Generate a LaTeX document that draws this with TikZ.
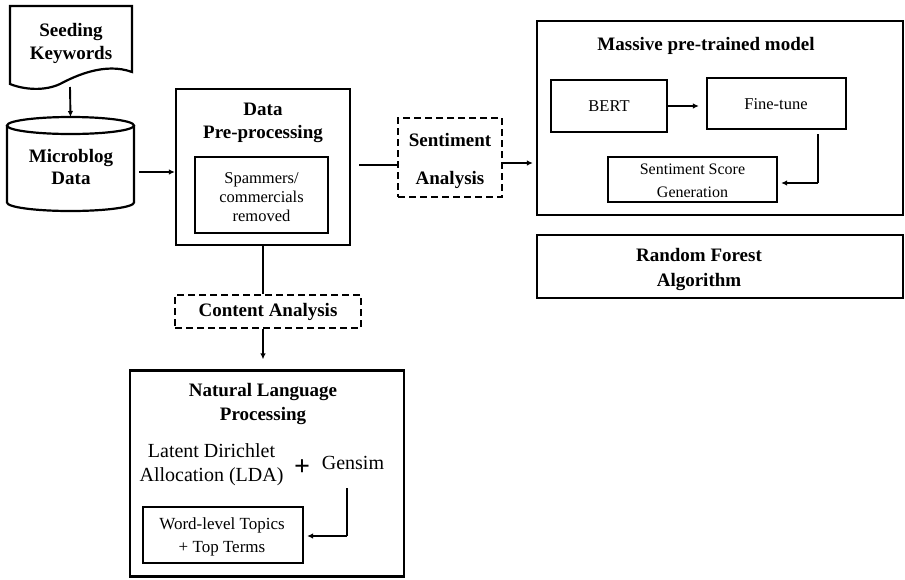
\documentclass[tikz,border=0pt]{standalone}
\usepackage{fontspec}
\setmainfont{Liberation Serif}
\usetikzlibrary{arrows.meta}
\begin{document}
\begin{tikzpicture}[x=1pt,y=-1pt,
  box/.style={draw, line width=2.2pt, inner sep=0pt},
  dbox/.style={draw, line width=2.2pt, inner sep=0pt, dash pattern=on 7pt off 4pt},
  ttl/.style={font=\bfseries\fontsize{19}{23}\selectfont, align=center, inner sep=0pt},
  txt/.style={font=\fontsize{16.5}{19.5}\selectfont, align=center, inner sep=0pt},
  line/.style={line width=1.9pt},
  arr/.style={line width=1.9pt, -{Latex[length=6pt,width=5.5pt]}}]
\useasboundingbox (0,0) rectangle (905,579);

% --- Seeding keywords (document shape)
\draw[line width=2.2pt] (10,6) -- (132,6) -- (132,72)
  .. controls (105,62) and (75,76) .. (60,84)
  .. controls (45,91) and (25,90) .. (10,84) -- cycle;
\node[ttl] (seed) at (71,43) {Seeding\\Keywords};
\coordinate (seedb) at (70,87);

% --- Microblog data (cylinder)
\draw[line width=2.2pt] (70.5,125.5) ellipse [x radius=63.5, y radius=8.5];
\draw[line width=2.2pt] (7,125.5) -- (7,202.5)
  .. controls (7,207.2) and (35.4,211) .. (70.5,211)
  .. controls (105.6,211) and (134,207.2) .. (134,202.5) -- (134,125.5);
\coordinate (cyltop) at (70.5,117);
\node[ttl, font=\bfseries\fontsize{19}{22}\selectfont] (mb) at (71,167) {Microblog\\Data};
\coordinate (cylr) at (139,172);

% --- Data pre-processing
\node[box, minimum width=174pt, minimum height=156pt] (pre) at (263,167) {};
\node[ttl] (pretitle) at (263,123) {Data\\Pre-processing};
\node[box, minimum width=133pt, minimum height=76pt] (spam) at (261.5,195) {};
\node[txt, font=\fontsize{16.5}{19}\selectfont] (spamtxt) at (261.5,197) {Spammers/\\commercials\\removed};

% --- Sentiment analysis
\node[dbox, minimum width=104pt, minimum height=79pt] (sent) at (450,157.5) {};
\node[ttl, font=\bfseries\fontsize{19}{38}\selectfont] (senttxt) at (450,161) {Sentiment\\Analysis};

% --- Massive pre-trained model
\node[box, minimum width=366pt, minimum height=194pt] (mass) at (720,118) {};
\node[ttl] (masstitle) at (706,46) {Massive pre-trained model};
\node[box, minimum width=116pt, minimum height=52pt] (bert) at (609,106) {};
\node[txt] (berttxt) at (609,106) {BERT};
\node[box, minimum width=139pt, minimum height=51pt] (fine) at (776.5,103.5) {};
\node[txt] (finetxt) at (776,104) {Fine-tune};
\node[box, minimum width=169pt, minimum height=45pt] (score) at (692.5,179.5) {};
\node[txt, font=\fontsize{16}{23}\selectfont] (scoretxt) at (692.5,181) {Sentiment Score\\Generation};

% --- Random forest
\node[box, minimum width=366pt, minimum height=63pt] (rf) at (720,266.5) {};
\node[ttl, font=\bfseries\fontsize{19}{25}\selectfont] (rftxt) at (699,269) {Random Forest\\Algorithm};

% --- Content analysis
\node[dbox, minimum width=186pt, minimum height=33pt] (cont) at (268,311.5) {};
\node[ttl] (conttxt) at (268,312) {Content Analysis};

% --- Natural language processing
\node[box, minimum width=274pt, minimum height=206pt] (nlp) at (267,473.5) {};
\node[ttl, font=\bfseries\fontsize{19}{24}\selectfont] (nlptitle) at (263,404) {Natural Language\\Processing};
\node[txt, font=\fontsize{20}{24}\selectfont] (lda) at (211.5,465) {Latent Dirichlet\\Allocation (LDA)};
\node[inner sep=0pt, font=\bfseries\fontsize{28}{28}\selectfont] (plus) at (302,468) {+};
\node[txt, font=\fontsize{20}{24}\selectfont] (gensim) at (353,463) {Gensim};
\node[box, minimum width=160pt, minimum height=56pt] (word) at (223,535) {};
\node[txt, font=\fontsize{17}{23}\selectfont] (wordtxt) at (222,537) {Word-level Topics\\+ Top Terms};

% --- Connectors
\coordinate (y163) at (0,163);
\coordinate (a1) at (359,165);
\coordinate (f1) at (818,134);
\coordinate (f2) at (818,183);
\coordinate (g1) at (347,488);
\coordinate (g2) at (347,536);

\draw[arr] (seedb) -- (cyltop);
\draw[arr] (cylr) -- (cylr -| pre.west);
\draw[line] (a1) -- (a1 -| sent.west);
\draw[arr] (sent.east |- y163) -- ([xshift=-3pt]mass.west |- y163);
\draw[arr] (bert.east) -- ([xshift=-7pt]bert.east -| fine.west);
\draw[line] (f1) -- (f2);
\draw[arr] (f2) -- ([xshift=3pt]f2 -| score.east);
\draw[line] (pre.south) -- (pre.south |- cont.north);
\draw[arr] (pre.south |- cont.south) -- ([yshift=10pt]pre.south |- nlp.north);
\draw[line] (g1) -- (g2);
\draw[arr] (g2) -- ([xshift=3pt]g2 -| word.east);
\end{tikzpicture}
\end{document}
